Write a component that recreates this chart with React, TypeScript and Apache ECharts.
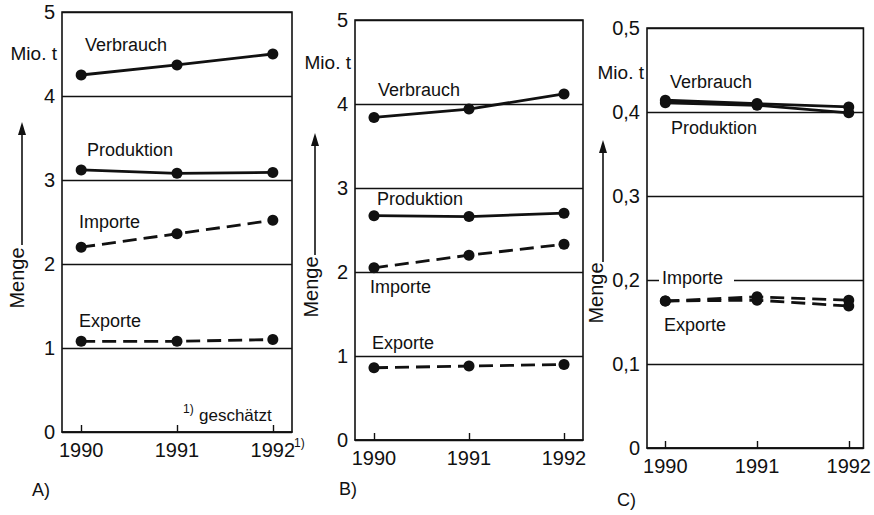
import React, { useEffect, useRef } from "react";
import * as echarts from "echarts";

const years = [1990, 1991, 1992];

// Panel A (Mio. t)
const aVerbrauch = [4.25, 4.37, 4.5];
const aProduktion = [3.12, 3.08, 3.09];
const aImporte = [2.2, 2.36, 2.52];
const aExporte = [1.08, 1.08, 1.1];

// Panel B (Mio. t)
const bVerbrauch = [3.84, 3.94, 4.12];
const bProduktion = [2.67, 2.66, 2.7];
const bImporte = [2.05, 2.2, 2.33];
const bExporte = [0.86, 0.88, 0.9];

// Panel C (Mio. t)
const cVerbrauch = [0.414, 0.41, 0.406];
const cProduktion = [0.411, 0.408, 0.399];
const cImporte = [0.175, 0.18, 0.176];
const cExporte = [0.175, 0.176, 0.169];

const INK = "#111";
const FONT = "Liberation Sans, Arial, Helvetica, sans-serif";

function pairs(vals: number[]) {
  return years.map((y, i) => [y, vals[i]]);
}

function mkSeries(idx: number, name: string, vals: number[], dashed: boolean) {
  return {
    type: "line",
    name,
    xAxisIndex: idx,
    yAxisIndex: idx,
    data: pairs(vals),
    symbol: "circle",
    symbolSize: 11,
    itemStyle: { color: INK },
    lineStyle: { color: INK, width: 2.8, type: dashed ? [14, 7] : "solid" },
    z: 5,
  };
}

function txt(text: string, x: number, y: number, size: number, extra: any = {}) {
  return {
    type: "text",
    x,
    y,
    z: 20,
    style: {
      text,
      font: `${size}px ${FONT}`,
      fill: INK,
      textAlign: "left",
      textVerticalAlign: "middle",
      ...extra,
    },
  };
}

function menge(cx: number, cy: number, ax: number, y0: number, y1: number) {
  return [
    {
      type: "text",
      x: cx,
      y: cy,
      rotation: Math.PI / 2,
      z: 20,
      style: {
        text: "Menge",
        font: `20px ${FONT}`,
        fill: INK,
        textAlign: "center",
        textVerticalAlign: "middle",
      },
    },
    {
      type: "line",
      z: 20,
      shape: { x1: ax, y1: y0, x2: ax, y2: y1 + 10 },
      style: { stroke: INK, lineWidth: 1.6 },
    },
    {
      type: "polygon",
      z: 20,
      shape: { points: [[ax, y1], [ax - 4, y1 + 13], [ax + 4, y1 + 13]] },
      style: { fill: INK },
    },
  ];
}

export default function App() {
  const ref = useRef<HTMLDivElement>(null);
  useEffect(() => {
    if (!ref.current) return;
    const chart = echarts.init(ref.current, null, { renderer: "svg" });

    const grids = [
      { left: 62, top: 12, width: 230, height: 420 },
      { left: 355, top: 20, width: 228, height: 420 },
      { left: 647, top: 28, width: 226, height: 420 },
    ].map((g) => ({ ...g, show: true, borderColor: INK, borderWidth: 1.6, backgroundColor: "transparent" }));

    const xMax = [1992.2, 1992.2, 1992.16];
    const xAxes = [0, 1, 2].map((i) => ({
      type: "value",
      gridIndex: i,
      min: 1989.8,
      max: xMax[i],
      axisLine: { show: true, lineStyle: { color: INK, width: 1.6 } },
      axisTick: { show: true, inside: true, length: 7, customValues: years, lineStyle: { color: INK, width: 1.4 } },
      axisLabel: {
        customValues: years,
        formatter: (v: number) => String(Math.round(v)),
        color: INK,
        fontSize: 20,
        fontFamily: FONT,
        margin: 8,
        showMinLabel: true,
        showMaxLabel: true,
      },
      splitLine: { show: false },
    }));

    const yAxes = [0, 1, 2].map((i) => ({
      type: "value",
      gridIndex: i,
      min: 0,
      max: i === 2 ? 0.5 : 5,
      interval: i === 2 ? 0.1 : 1,
      axisLine: { show: false },
      axisTick: { show: false },
      axisLabel: {
        color: INK,
        fontSize: 20,
        fontFamily: FONT,
        margin: 7,
        formatter: (v: number) =>
          i === 2 ? (v === 0 ? "0" : v.toFixed(1).replace(".", ",")) : String(v),
      },
      splitLine: { show: true, lineStyle: { color: INK, width: 1.3 } },
    }));

    const series = [
      mkSeries(0, "Verbrauch", aVerbrauch, false),
      mkSeries(0, "Produktion", aProduktion, false),
      mkSeries(0, "Importe", aImporte, true),
      mkSeries(0, "Exporte", aExporte, true),
      mkSeries(1, "Verbrauch", bVerbrauch, false),
      mkSeries(1, "Produktion", bProduktion, false),
      mkSeries(1, "Importe", bImporte, true),
      mkSeries(1, "Exporte", bExporte, true),
      mkSeries(2, "Verbrauch", cVerbrauch, false),
      mkSeries(2, "Produktion", cProduktion, false),
      mkSeries(2, "Importe", cImporte, true),
      mkSeries(2, "Exporte", cExporte, true),
    ];

    const right = { textAlign: "right" };
    const graphic: any[] = [
      // Panel A
      txt("Mio. t", 57, 53, 19, right),
      txt("Verbrauch", 85, 45, 18),
      txt("Produktion", 87, 150, 18),
      txt("Importe", 79, 222, 18),
      txt("Exporte", 79, 321, 18),
      txt("1)", 183, 409, 12),
      txt("geschätzt", 199, 415, 17),
      txt("1)", 294, 443, 12),
      txt("A)", 32, 490, 18),
      ...menge(17, 278, 22, 245, 122),
      // Panel B
      txt("Mio. t", 351, 62, 19, right),
      txt("Verbrauch", 378, 90, 18),
      txt("Produktion", 377, 199, 18),
      txt("Importe", 370, 287, 18),
      txt("Exporte", 372, 343, 18),
      txt("B)", 339, 489, 18),
      ...menge(311, 287, 315, 255, 133),
      // Panel C
      txt("Mio. t", 644, 72, 19, right),
      txt("Verbrauch", 670, 82, 18),
      txt("Produktion", 671, 128, 18),
      {
        type: "rect",
        z: 15,
        shape: { x: 659, y: 270, width: 75, height: 18 },
        style: { fill: "#fff" },
      },
      txt("Importe", 662, 278, 18),
      txt("Exporte", 664, 325, 18),
      txt("C)", 617, 500, 18),
      ...menge(596, 293, 603, 262, 140),
    ];

    chart.setOption({
      animation: false,
      backgroundColor: "#fff",
      grid: grids,
      xAxis: xAxes,
      yAxis: yAxes,
      series,
      graphic,
    });
    return () => chart.dispose();
  }, []);

  return (
    <div
      ref={ref}
      style={{ position: "fixed", left: 0, top: 0, width: 874, height: 515, background: "#fff" }}
    />
  );
}
